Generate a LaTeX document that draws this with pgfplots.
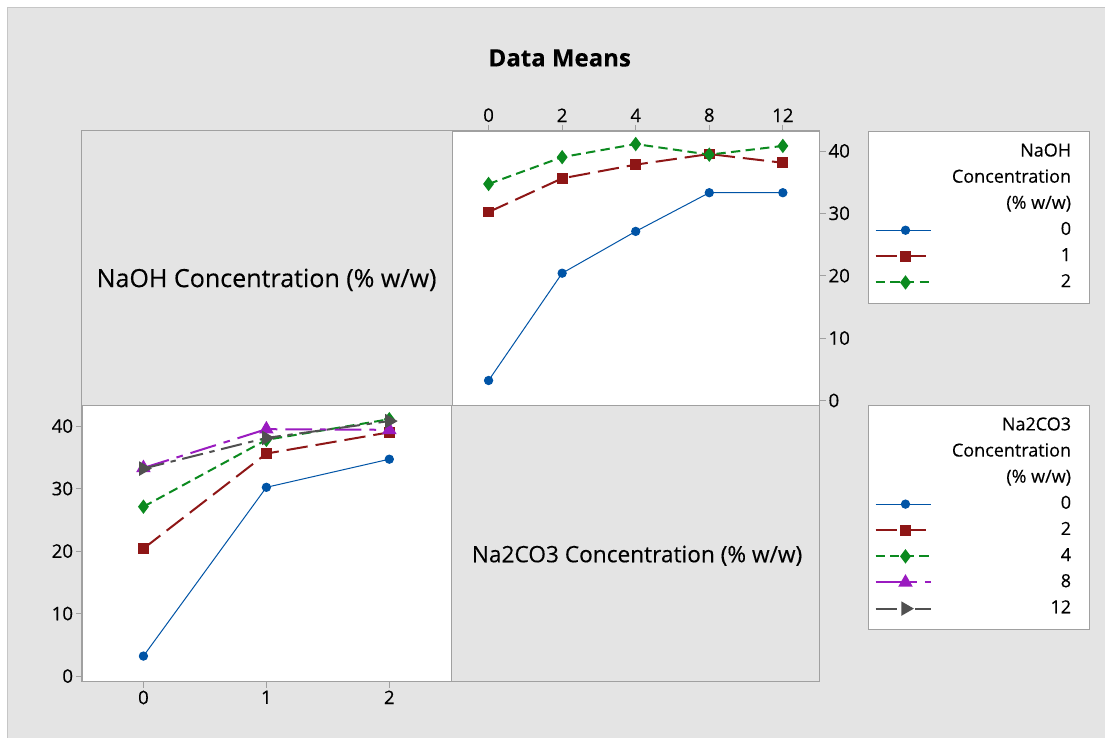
\documentclass[border=0pt]{standalone}
\usepackage{fontspec}
\setmainfont{Open Sans}[FakeBold=0.3]
\usepackage{pgfplots}
\pgfplotsset{compat=1.18}

\definecolor{bgray}{HTML}{E4E4E4}
\definecolor{frame}{HTML}{A0A0A0}
\definecolor{mblue}{HTML}{0054A6}
\definecolor{mred}{HTML}{8E1616}
\definecolor{mgreen}{HTML}{0B8A1F}
\definecolor{mpurple}{HTML}{9A1BC0}
\definecolor{mgray}{HTML}{505050}

\pgfplotsset{
  panel/.style={
    scale only axis,
    axis background/.style={fill=white},
    axis line style={frame},
    tick style={frame, line width=0.6pt},
    tick align=outside,
    major tick length=4.5pt,
    ytick={0,10,20,30,40},
    tick label style={font=\fontsize{14}{16}\selectfont, inner sep=2pt},
    /pgf/number format/assume math mode=true,
    legend cell align=right,
    legend style={draw=frame, fill=white, inner xsep=5pt, inner ysep=9pt,
      row sep=6.6pt, column sep=0pt,
      nodes={inner sep=0pt, text height=10pt, text depth=3pt},
      font=\fontsize{13.5}{15}\selectfont},
    legend image code/.code={
      \draw[mark repeat=2, mark phase=2, #1] plot coordinates {(0pt,0pt) (22.5pt,0pt) (42pt,0pt)};
    },
  },
  sblue/.style={color=mblue, line width=0.75pt, solid, mark=*, mark size=3.1pt, mark options={solid, fill=mblue}},
  sred/.style={color=mred, line width=1.5pt, dash pattern=on 16pt off 6pt, mark=square*, mark size=3.3pt, mark options={solid, fill=mred}},
  sgreen/.style={color=mgreen, line width=1.5pt, dash pattern=on 7pt off 4pt, mark=diamond*, mark size=4.2pt, mark options={solid, fill=mgreen}},
  spurple/.style={color=mpurple, line width=1.5pt, dash pattern=on 20pt off 6pt on 5pt off 6pt, mark=triangle*, mark size=4.8pt, mark options={solid, fill=mpurple}},
  sgray/.style={color=mgray, line width=1.5pt, dash pattern=on 16pt off 5pt on 4pt off 5pt, mark=triangle*, mark size=4.8pt, mark options={solid, rotate=-90, fill=mgray}},
}
\newcommand{\legtxt}[1]{\makebox[113pt][r]{#1\hspace{9pt}}}

\begin{document}
\begin{tikzpicture}
% page and backdrop
\fill[white] (0pt,0pt) rectangle (828.75pt,-553.5pt);
\fill[bgray] (6pt,-5.25pt) rectangle (828.75pt,-553.5pt);
\draw[gray!45, line width=0.75pt] (6pt,-553.5pt) -- (6pt,-5.25pt) -- (828.75pt,-5.25pt);
% matrix frame
\draw[frame, line width=0.75pt] (61.5pt,-98.25pt) rectangle (615pt,-511.5pt);

\node[font=\bfseries\fontsize{18}{20}\selectfont] at (420pt,-43.5pt) {Data Means};
\node[font=\fontsize{18.8}{21}\selectfont] at (200pt,-210pt) {NaOH Concentration (\% w/w)};
\node[font=\fontsize{17}{19}\selectfont] at (478pt,-417pt) {Na2CO3 Concentration (\% w/w)};

% top right: NaOH series against Na2CO3 levels
\begin{axis}[panel,
  at={(339pt,-303.75pt)}, anchor=south west,
  width=276pt, height=205.5pt,
  xmin=-0.5, xmax=4.5, ymin=-0.7, ymax=43.2,
  xtick={0,1,2,3,4}, xticklabels={0,2,4,8,12},
  xtick pos=right, xticklabel pos=right,
  ytick pos=right, yticklabel pos=right,
  legend style={at={(1.1304,1)}, anchor=north west},
]
\addlegendimage{empty legend}\addlegendentry{\legtxt{NaOH}}
\addlegendimage{empty legend}\addlegendentry{\legtxt{Concentration}}
\addlegendimage{empty legend}\addlegendentry{\legtxt{(\% w/w)}}
\addplot[sblue] coordinates {(0,3.2) (1,20.4) (2,27.1) (3,33.3) (4,33.3)};
\addlegendentry{\legtxt{0}}
\addplot[sred] coordinates {(0,30.2) (1,35.6) (2,37.8) (3,39.5) (4,38.1)};
\addlegendentry{\legtxt{1}}
\addplot[sgreen] coordinates {(0,34.7) (1,39.0) (2,41.1) (3,39.4) (4,40.8)};
\addlegendentry{\legtxt{2}}
\end{axis}

% bottom left: Na2CO3 series against NaOH levels
\begin{axis}[panel,
  at={(61.5pt,-511.5pt)}, anchor=south west,
  width=276.75pt, height=207.75pt,
  xmin=-0.5, xmax=2.5, ymin=-0.9, ymax=43.4,
  xtick={0,1,2},
  xtick pos=left, xticklabel pos=left,
  ytick pos=left, yticklabel pos=left,
  legend style={at={(2.130,1)}, anchor=north west},
]
\addlegendimage{empty legend}\addlegendentry{\legtxt{Na2CO3}}
\addlegendimage{empty legend}\addlegendentry{\legtxt{Concentration}}
\addlegendimage{empty legend}\addlegendentry{\legtxt{(\% w/w)}}
\addplot[sblue] coordinates {(0,3.2) (1,30.2) (2,34.7)};
\addlegendentry{\legtxt{0}}
\addplot[sred] coordinates {(0,20.4) (1,35.6) (2,39.0)};
\addlegendentry{\legtxt{2}}
\addplot[sgreen] coordinates {(0,27.1) (1,37.8) (2,41.1)};
\addlegendentry{\legtxt{4}}
\addplot[spurple] coordinates {(0,33.3) (1,39.5) (2,39.4)};
\addlegendentry{\legtxt{8}}
\addplot[sgray] coordinates {(0,33.2) (1,38.1) (2,40.8)};
\addlegendentry{\legtxt{12}}
\end{axis}
\end{tikzpicture}
\end{document}
